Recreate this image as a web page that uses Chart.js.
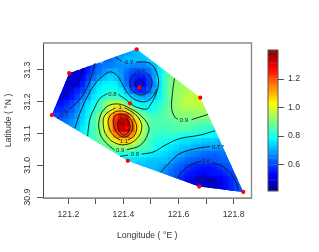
<!DOCTYPE html>
<html>
<head>
<meta charset="utf-8">
<title>Interpolated surface</title>
<script src="https://cdn.jsdelivr.net/npm/chart.js@4"></script>
<style>
  html, body { margin: 0; padding: 0; background: #fff; overflow: hidden; }
  #wrap { position: relative; width: 319px; height: 252px; }
  canvas { position: absolute; top: 0; }
  #mapChart { left: 0; }
  #barChart { left: 255px; }
</style>
</head>
<body>
<div id="wrap">
  <canvas id="mapChart" width="319" height="252"></canvas>
  <canvas id="barChart" width="64" height="252"></canvas>
</div>
<script>
// Station positions (red dots)
const pointLon = [121.448, 121.203, 121.140, 121.458, 121.424, 121.412, 121.679, 121.416, 121.675, 121.835];
const pointLat = [31.365, 31.290, 31.158, 31.245, 31.195, 31.119, 31.213, 31.014, 30.933, 30.916];

// Edge of the coloured area
const hullLon = [121.140, 121.203, 121.448, 121.679, 121.835, 121.675, 121.416];
const hullLat = [31.158, 31.290, 31.365, 31.213, 30.916, 30.933, 31.014];

// Surface cells: one row per latitude, cellStart is the first longitude index of the row
const gridLon = [121.14, 121.16, 121.18, 121.20, 121.22, 121.24, 121.26, 121.28, 121.30, 121.32, 121.34, 121.36,
  121.38, 121.40, 121.42, 121.44, 121.46, 121.48, 121.50, 121.52, 121.54, 121.56, 121.58, 121.60,
  121.62, 121.64, 121.66, 121.68, 121.70, 121.72, 121.74, 121.76, 121.78, 121.80, 121.82, 121.84];
const gridLat = [31.37, 31.35, 31.33, 31.31, 31.29, 31.27, 31.25, 31.23, 31.21, 31.19, 31.17, 31.15,
  31.13, 31.11, 31.09, 31.07, 31.05, 31.03, 31.01, 30.99, 30.97, 30.95, 30.93, 30.91];
const cellStart = [15, 12, 10, 6, 3, 3, 2, 2, 1, 1, 0, 0, 2, 4, 6, 8, 10, 12, 14, 16, 20, 23, 26, 32];
const cellRows = [
  [.72,.73],
  [.66,.67,.69,.70,.72,.74],
  [.62,.64,.67,.70,.71,.71,.72,.72,.74,.77],
  [.53,.56,.61,.64,.65,.66,.67,.67,.67,.65,.65,.66,.68,.72,.79],
  [.46,.47,.50,.53,.58,.62,.66,.69,.71,.70,.67,.62,.59,.59,.60,.64,.70,.78,.85],
  [.46,.48,.51,.54,.60,.66,.70,.73,.74,.72,.67,.61,.56,.54,.55,.60,.71,.80,.86,.90,.92],
  [.48,.49,.50,.53,.57,.66,.73,.76,.78,.78,.76,.70,.62,.55,.51,.55,.60,.68,.78,.85,.90,.92,.93],
  [.50,.52,.54,.57,.61,.68,.74,.77,.80,.81,.80,.76,.67,.60,.56,.57,.64,.71,.79,.86,.90,.93,.94,.95,.96],
  [.50,.51,.53,.56,.60,.67,.72,.77,.80,.83,.85,.84,.81,.77,.73,.71,.70,.71,.74,.80,.85,.90,.93,.95,.96,.97,.97],
  [.54,.55,.57,.60,.66,.72,.76,.80,.85,.91,.96,.98,.96,.86,.80,.78,.76,.77,.79,.82,.86,.89,.93,.95,.96,.96,.96,.96],
  [.57,.57,.58,.60,.63,.68,.73,.77,.82,.86,.91,1.02,1.09,1.09,1.04,.92,.85,.81,.80,.81,.84,.87,.90,.92,.94,.94,.94,.94,.93],
  [.60,.60,.61,.62,.65,.70,.75,.80,.85,.91,1.02,1.13,1.25,1.31,1.24,1.06,.95,.88,.85,.84,.85,.87,.88,.90,.90,.90,.91,.92,.92,.92],
  [.64,.65,.68,.72,.76,.81,.87,.92,1.02,1.15,1.30,1.37,1.32,1.14,1.02,.92,.87,.85,.85,.86,.86,.87,.88,.87,.87,.86,.86,.85,.84],
  [.69,.73,.77,.81,.86,.92,1.01,1.13,1.28,1.34,1.33,1.16,1.02,.92,.86,.84,.84,.84,.85,.85,.85,.85,.84,.83,.82,.81,.80],
  [.79,.82,.86,.89,.95,1.06,1.16,1.20,1.20,1.08,.98,.90,.86,.83,.82,.82,.82,.81,.80,.80,.79,.79,.78,.77,.76,.75],
  [.84,.87,.90,.96,1.01,1.05,1.05,.99,.92,.87,.83,.81,.80,.79,.78,.76,.75,.74,.73,.73,.72,.72,.71,.70],
  [.85,.87,.90,.91,.90,.88,.86,.84,.82,.80,.78,.76,.74,.73,.72,.71,.70,.69,.68,.68,.67,.67,.67],
  [.80,.80,.79,.79,.79,.77,.76,.75,.74,.73,.72,.70,.68,.66,.65,.64,.63,.63,.63,.64,.64],
  [.75,.74,.73,.73,.72,.72,.71,.71,.68,.66,.64,.62,.60,.60,.60,.60,.61,.62,.63,.64],
  [.72,.72,.71,.71,.69,.67,.64,.62,.60,.58,.56,.55,.55,.55,.56,.59,.61,.63],
  [.69,.66,.63,.60,.57,.55,.54,.53,.53,.54,.54,.55,.57,.59,.61],
  [.59,.55,.53,.51,.49,.48,.48,.50,.52,.54,.58,.61],
  [.48,.47,.47,.48,.50,.52,.54,.57,.60,.61],
  [.54,.57,.60,.62]
];

// Contour lines as [lon, lat] pairs; a line with a label in it is split in two
const contourLines = [
  // 0.5 upper left
  [[121.252,31.306],[121.242,31.275],[121.227,31.253],[121.21,31.24]],
  [[121.184,31.218],[121.172,31.207]],
  // 0.6 left
  [[121.297,31.322],[121.279,31.268],[121.249,31.216],[121.203,31.175]],
  [[121.168,31.152],[121.159,31.147]],
  // 0.7 from the south west edge round the northern low
  [[121.224,31.117],[121.242,31.164],[121.272,31.221],[121.303,31.263],[121.33,31.284],[121.351,31.294],
   [121.373,31.286],[121.391,31.265],[121.406,31.24],[121.428,31.215],[121.457,31.202],[121.486,31.202],
   [121.507,31.218],[121.522,31.24]],
  // top edge, round the low and back west under it
  [[121.372,31.34],[121.394,31.327]],
  [[121.446,31.325],[121.486,31.324],[121.507,31.313],[121.524,31.284],[121.527,31.253],[121.515,31.218],
   [121.497,31.189],[121.485,31.177],[121.448,31.183],[121.424,31.195],[121.412,31.205],[121.382,31.223]],
  [[121.342,31.226],[121.315,31.211],[121.297,31.184],[121.279,31.148],[121.272,31.11],[121.27,31.092]],
  // northern low
  [[121.458,31.271],[121.473,31.257],[121.458,31.244],[121.442,31.257],[121.458,31.271]],
  [[121.482,31.291],[121.5,31.275],[121.503,31.253],[121.489,31.231],[121.464,31.221],[121.439,31.231],
   [121.424,31.253],[121.428,31.275],[121.446,31.291]],
  // 0.9 on the east side
  [[121.585,31.274],[121.578,31.226],[121.575,31.179],[121.587,31.151],[121.598,31.145]],
  [[121.648,31.144],[121.707,31.16]],
  // 0.8 south of the peak
  [[121.388,31.028],[121.417,31.032]],
  [[121.466,31.035],[121.509,31.042],[121.551,31.063],[121.605,31.084],[121.678,31.095],[121.733,31.109]],
  // 0.7, 0.6, 0.5 around the south east low
  [[121.535,30.978],[121.569,31.01],[121.605,31.037],[121.666,31.053],[121.714,31.059]],
  [[121.758,31.061],[121.765,31.061]],
  [[121.596,30.96],[121.624,30.99],[121.66,31.007],[121.682,31.013]],
  [[121.722,31.009],[121.763,30.995],[121.799,30.963],[121.818,30.923]],
  [[121.636,30.946],[121.656,30.961]],
  [[121.7,30.96],[121.729,30.949],[121.745,30.929]],
  // peak, 0.9 to 1.3
  [[121.368,31.048],[121.339,31.069],[121.315,31.1],[121.313,31.147],[121.339,31.184],[121.382,31.193],
   [121.424,31.179],[121.461,31.158],[121.49,31.126],[121.49,31.101],[121.461,31.063],[121.412,31.049]],
  [[121.404,31.181],[121.435,31.166],[121.46,31.142],[121.466,31.114],[121.449,31.084],[121.413,31.066],
   [121.373,31.069],[121.34,31.092],[121.327,31.126],[121.333,31.158],[121.371,31.181]],
  [[121.417,31.08],[121.437,31.091],[121.448,31.114],[121.442,31.139],[121.42,31.163],[121.388,31.171],
   [121.359,31.163],[121.345,31.142],[121.35,31.114],[121.366,31.092],[121.388,31.08]],
  [[121.395,31.161],[121.42,31.152],[121.434,31.126],[121.428,31.104],[121.406,31.089],[121.381,31.098],
   [121.366,31.123],[121.364,31.145],[121.373,31.157],[121.395,31.161]],
  [[121.413,31.147],[121.424,31.123],[121.417,31.104],[121.402,31.095],[121.388,31.104],[121.379,31.126],[121.384,31.144]]
];

// Contour labels
const labelText = ["0.5", "0.6", "0.7", "0.6", "0.8", "1", "0.9", "0.8", "0.9", "0.7", "0.6", "0.5", "1.1", "1.3"];
const labelLon = [121.198, 121.185, 121.421, 121.464, 121.36, 121.388, 121.388, 121.442, 121.62, 121.736, 121.7, 121.678, 121.402, 121.4];
const labelLat = [31.23, 31.163, 31.323, 31.294, 31.224, 31.183, 31.047, 31.035, 31.142, 31.058, 31.013, 30.963, 31.076, 31.151];

// Axis ticks
const xTickValues = [121.2, 121.3, 121.4, 121.5, 121.6, 121.7, 121.8];
const xTickLabels = ["121.2", "", "121.4", "", "121.6", "", "121.8"];
const yTickValues = [30.9, 31.0, 31.1, 31.2, 31.3];
const yTickLabels = ["30.9", "31.0", "31.1", "31.2", "31.3"];
const barTickValues = [0.6, 0.8, 1.0, 1.2];
const barTickLabels = ["0.6", "0.8", "1.0", "1.2"];

// Colour scale: 64 steps, breaks has one more entry than colours
const barBreaks = [0.414, 0.429, 0.445, 0.460, 0.476, 0.491, 0.507, 0.522, 0.538, 0.553, 0.569, 0.584, 0.600, 0.615, 0.631, 0.646,
  0.662, 0.677, 0.693, 0.708, 0.724, 0.739, 0.755, 0.770, 0.786, 0.801, 0.817, 0.832, 0.848, 0.863, 0.879, 0.894,
  0.910, 0.925, 0.941, 0.956, 0.972, 0.987, 1.003, 1.018, 1.034, 1.049, 1.065, 1.080, 1.096, 1.111, 1.127, 1.142,
  1.158, 1.173, 1.189, 1.204, 1.220, 1.235, 1.251, 1.266, 1.282, 1.297, 1.313, 1.328, 1.344, 1.359, 1.375, 1.390, 1.404];
const barColors = ["#00008F","#00009F","#0000AF","#0000BF","#0000CF","#0000DF","#0000EF","#0000FF",
  "#0010FF","#0020FF","#0030FF","#0040FF","#0050FF","#0060FF","#0070FF","#0080FF",
  "#008FFF","#009FFF","#00AFFF","#00BFFF","#00CFFF","#00DFFF","#00EFFF","#00FFFF",
  "#10FFEF","#20FFDF","#30FFCF","#40FFBF","#50FFAF","#60FF9F","#70FF8F","#80FF80",
  "#8FFF70","#9FFF60","#AFFF50","#BFFF40","#CFFF30","#DFFF20","#EFFF10","#FFFF00",
  "#FFEF00","#FFDF00","#FFCF00","#FFBF00","#FFAF00","#FF9F00","#FF8F00","#FF8000",
  "#FF7000","#FF6000","#FF5000","#FF4000","#FF3000","#FF2000","#FF1000","#FF0000",
  "#EF0000","#DF0000","#CF0000","#BF0000","#AF0000","#9F0000","#8F0000","#800000"];

const textColor = "#333333";
const axisFont = { family: "'Liberation Sans', Arial, sans-serif", size: 8.7 };

function colorFor(value) {
  for (let i = 0; i < barColors.length; i++) {
    if (value < barBreaks[i + 1]) return barColors[i];
  }
  return barColors[barColors.length - 1];
}

// Flatten the rows into scatter cells
const cells = [];
const cellColors = [];
const softColors = [];
cellRows.forEach((row, r) => {
  row.forEach((value, c) => {
    cells.push({ x: gridLon[cellStart[r] + c], y: gridLat[r] });
    cellColors.push(colorFor(value));
    softColors.push(colorFor(value) + "80");
  });
});

// Clip the surface cells to the hull polygon (datasets 0 and 1)
const hullClip = {
  id: "hullClip",
  beforeDatasetDraw(chart, args) {
    if (args.index > 1) return;
    const ctx = chart.ctx;
    const xs = chart.scales.x;
    const ys = chart.scales.y;
    ctx.save();
    ctx.beginPath();
    hullLon.forEach((lon, i) => {
      ctx.lineTo(xs.getPixelForValue(lon), ys.getPixelForValue(hullLat[i]));
    });
    ctx.closePath();
    ctx.clip();
  },
  afterDatasetDraw(chart, args) {
    if (args.index <= 1) chart.ctx.restore();
  }
};

// Grey frame around the plot and the small labels on the contours
const labelAngles = { 0: -55, 1: -40 };
const frameAndLabels = {
  id: "frameAndLabels",
  afterDraw(chart) {
    const ctx = chart.ctx;
    const a = chart.chartArea;
    const xs = chart.scales.x;
    const ys = chart.scales.y;
    ctx.save();
    ctx.strokeStyle = "#8c8c8c";
    ctx.lineWidth = 1.4;
    ctx.beginPath();
    ctx.moveTo(a.left, a.top);
    ctx.lineTo(a.right, a.top);
    ctx.lineTo(a.right, a.bottom);
    ctx.lineTo(a.left, a.bottom);
    ctx.stroke();
    ctx.font = "6px 'Liberation Sans', Arial, sans-serif";
    ctx.fillStyle = "#222222";
    ctx.textAlign = "center";
    ctx.textBaseline = "middle";
    labelText.forEach((text, i) => {
      ctx.save();
      ctx.translate(xs.getPixelForValue(labelLon[i]), ys.getPixelForValue(labelLat[i]));
      ctx.rotate((labelAngles[i] || 0) * Math.PI / 180);
      ctx.fillText(text, 0, 0);
      ctx.restore();
    });
    ctx.restore();
  }
};

const datasets = [
  {
    data: cells,
    order: 5,
    pointStyle: "rect",
    pointRadius: 4.8,
    pointBorderWidth: 0,
    pointBackgroundColor: cellColors
  },
  // second, wider pass at half strength softens the steps between cells
  {
    data: cells,
    order: 4,
    pointStyle: "rect",
    pointRadius: 7,
    pointBorderWidth: 0,
    pointBackgroundColor: softColors
  }
];
contourLines.forEach(line => {
  datasets.push({
    data: line.map(p => ({ x: p[0], y: p[1] })),
    order: 2,
    showLine: true,
    tension: 0.4,
    borderColor: "#111111",
    borderWidth: 0.9,
    pointRadius: 0
  });
});
datasets.push({
  data: pointLon.map((lon, i) => ({ x: lon, y: pointLat[i] })),
  order: 1,
  pointRadius: 2.1,
  pointBorderWidth: 0,
  pointBackgroundColor: "#ff0000",
  clip: false
});

new Chart(document.getElementById("mapChart"), {
  type: "scatter",
  data: { datasets: datasets },
  plugins: [hullClip, frameAndLabels],
  options: {
    responsive: false,
    animation: false,
    events: [],
    layout: { padding: { top: 43, right: 67.5, left: 0, bottom: 0 } },
    plugins: { legend: { display: false }, tooltip: { enabled: false } },
    scales: {
      x: {
        type: "linear",
        min: 121.108,
        max: 121.865,
        afterFit: scale => { scale.height = 54; },
        afterBuildTicks: scale => { scale.ticks = xTickValues.map(v => ({ value: v })); },
        grid: { drawOnChartArea: false, tickLength: 6, tickColor: "#555555", tickWidth: 1 },
        border: { color: "#8c8c8c" },
        ticks: {
          color: textColor,
          font: axisFont,
          padding: 5,
          autoSkip: false,
          maxRotation: 0,
          callback: (value, i) => xTickLabels[i]
        },
        title: {
          display: true,
          text: "Longitude ( °E )",
          color: textColor,
          font: axisFont,
          padding: { top: 0, bottom: 11 }
        }
      },
      y: {
        type: "linear",
        min: 30.897,
        max: 31.385,
        afterFit: scale => { scale.width = 43; },
        afterBuildTicks: scale => { scale.ticks = yTickValues.map(v => ({ value: v })); },
        grid: { drawOnChartArea: false, tickLength: 6, tickColor: "#555555", tickWidth: 1 },
        border: { color: "#444444" },
        ticks: {
          color: textColor,
          font: axisFont,
          padding: 0.6,
          autoSkip: false,
          minRotation: 90,
          maxRotation: 90,
          crossAlign: "center",
          callback: (value, i) => yTickLabels[i]
        },
        title: {
          display: true,
          text: "Latitude ( °N )",
          color: textColor,
          font: axisFont,
          padding: { top: 3, bottom: 0 }
        }
      }
    }
  }
});

// Colour bar
const barFrame = {
  id: "barFrame",
  afterDraw(chart) {
    const a = chart.chartArea;
    const ctx = chart.ctx;
    ctx.save();
    ctx.strokeStyle = "#555555";
    ctx.lineWidth = 1;
    ctx.strokeRect(a.left, a.top, a.right - a.left, a.bottom - a.top);
    ctx.restore();
  }
};

new Chart(document.getElementById("barChart"), {
  type: "bar",
  data: {
    labels: [""],
    datasets: barColors.map((color, i) => ({
      data: [[barBreaks[i], barBreaks[i + 1]]],
      backgroundColor: color,
      borderColor: color,
      borderWidth: 0.5,
      borderSkipped: false,
      grouped: false,
      barPercentage: 1,
      categoryPercentage: 1
    }))
  },
  plugins: [barFrame],
  options: {
    responsive: false,
    animation: false,
    events: [],
    layout: { padding: { top: 50, left: 13, right: 0, bottom: 61 } },
    plugins: { legend: { display: false }, tooltip: { enabled: false } },
    scales: {
      x: { display: false },
      y: {
        position: "right",
        min: 0.414,
        max: 1.404,
        afterFit: scale => { scale.width = 41; },
        afterBuildTicks: scale => { scale.ticks = barTickValues.map(v => ({ value: v })); },
        grid: { drawOnChartArea: false, tickLength: 6, tickColor: "#555555", tickWidth: 1 },
        border: { display: false },
        ticks: {
          color: textColor,
          font: axisFont,
          padding: 4,
          autoSkip: false,
          callback: (value, i) => barTickLabels[i]
        }
      }
    }
  }
});
</script>
</body>
</html>
